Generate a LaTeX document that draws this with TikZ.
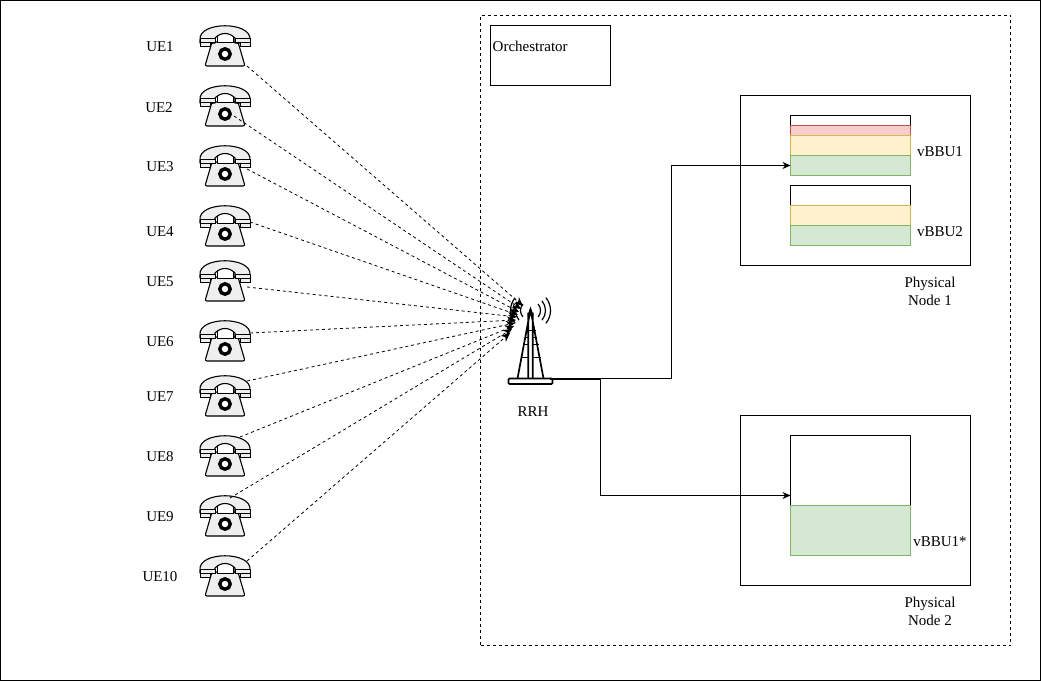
\documentclass[tikz,border=0pt]{standalone}
\usepackage{fontspec}
\setmainfont{Liberation Serif}
\usetikzlibrary{arrows.meta}
\definecolor{gf}{HTML}{D5E8D4}\definecolor{gd}{HTML}{82B366}
\definecolor{yf}{HTML}{FFF2CC}\definecolor{yd}{HTML}{D6B656}
\definecolor{rf}{HTML}{F8CECC}\definecolor{rd}{HTML}{B85450}
\definecolor{ph}{HTML}{EFEFEF}
\tikzset{
 lbl/.style={font=\fontsize{15}{18}\selectfont,inner sep=0pt,align=center},
 boxx/.style={draw=black,line width=.8pt,anchor=north west,inner sep=0pt,outer sep=0pt},
 link/.style={draw=black,line width=.8pt,-{Stealth[length=8pt,width=7pt]}},
 radio/.style={draw=black,line width=.8pt,dash pattern=on 3pt off 3pt,-{Stealth[length=9pt,width=8pt]}},
 pics/phone/.style={code={
  \fill[ph,draw=black,line width=1.1pt,line join=round,rounded corners=2pt] (-13,-4)--(13,-4)--(20,20)--(-20,20)--cycle;
  \draw[line width=1pt,fill=white] (-8,-12) -- (-8,-3) -- (8,-3) -- (8,-12);
  \fill[ph,draw=black,line width=1.1pt,line join=round] (-25,-6) .. controls (-27,-25) and (27,-25) .. (25,-6) -- (25,-3) -- (10,-3) -- (10,-8) .. controls (4,-14) and (-4,-14) .. (-10,-8) -- (-10,-3) -- (-25,-3) -- cycle;
  \draw[line width=1pt,fill=ph] (-25,-7) rectangle (-10,-3) (10,-7) rectangle (25,-3);
  \draw[line width=1pt,fill=ph] (-25,-3) rectangle (-15,1) (15,-3) rectangle (25,1);
  \draw[line width=3.4pt,fill=white] (0,8) circle (5.2);
 }},
 pics/mast/.style={code={
  \draw[line width=1.7pt,line join=round] (-13,0) -- (0,-69) -- (13,0) (-2.2,0) -- (-2.2,-66) (2.2,0) -- (2.2,-66);
  \fill (0,-72) -- (-3,-63) -- (3,-63) -- cycle;
  \draw[line width=1.3pt] (-6,-41)--(-2,-41) (2,-41)--(6,-41) (-8,-34)--(-2,-34) (2,-34)--(8,-34) (-10,-21)--(-2,-21) (2,-21)--(10,-21) (-5,-48)--(5,-48);
  \draw[line width=1.6pt,fill=white,rounded corners=1pt] (-22,0) rectangle (22,5.5);
  \foreach \r in {10,15,20}{\draw[line width=1.2pt] (0,-68)++(-40:\r) arc (-40:40:\r);
   \draw[line width=1.2pt] (0,-68)++(140:\r) arc (140:220:\r);}
 }}
}
\begin{document}
\begin{tikzpicture}[x=1pt,y=-1pt]
\useasboundingbox (0,0) rectangle (1041,682);
\node[boxx,minimum width=1040pt,minimum height=680pt] (frame) at (.5,.5) {};
\node[boxx,dash pattern=on 3pt off 3pt,minimum width=530pt,minimum height=630pt] (orchzone) at (480.5,15.5) {};
\node[boxx,minimum width=120pt,minimum height=60pt] (orch) at (490.5,25.5) {};
\node[lbl,anchor=west] (orchl) at (492.5,46) {Orchestrator};
\node[boxx,minimum width=230pt,minimum height=170pt] (pn1) at (740.5,95.5) {};
\node[boxx,minimum width=230pt,minimum height=170pt] (pn2) at (740.5,415.5) {};
\node[lbl] (pn1l) at (930,291) {Physical\\Node 1};
\node[lbl] (pn2l) at (930,611) {Physical\\Node 2};
% vBBU1
\node[boxx,minimum width=120pt,minimum height=10pt] (a0) at (790.5,115.5) {};
\node[boxx,draw=rd,fill=rf,minimum width=120pt,minimum height=10pt] (a1) at (790.5,125.5) {};
\node[boxx,draw=yd,fill=yf,minimum width=120pt,minimum height=20pt] (a2) at (790.5,135.5) {};
\node[boxx,draw=gd,fill=gf,minimum width=120pt,minimum height=20pt] (a3) at (790.5,155.5) {};
\node[lbl] (al) at (940,151.5) {vBBU1};
% vBBU2
\node[boxx,minimum width=120pt,minimum height=20pt] (b0) at (790.5,185.5) {};
\node[boxx,draw=yd,fill=yf,minimum width=120pt,minimum height=20pt] (b1) at (790.5,205.5) {};
\node[boxx,draw=gd,fill=gf,minimum width=120pt,minimum height=20pt] (b2) at (790.5,225.5) {};
\node[lbl] (bl) at (940,231.5) {vBBU2};
% vBBU1*
\node[boxx,minimum width=120pt,minimum height=70pt] (c0) at (790.5,435.5) {};
\node[boxx,draw=gd,fill=gf,minimum width=120pt,minimum height=50pt] (c1) at (790.5,505.5) {};
\node[lbl] (cl) at (940,541.5) {vBBU1*};
% tower
\pic at (530.5,378.5) {mast};
\coordinate (rrh) at (550,378.5);
\coordinate (rrh2) at (550,379.5);
\node[lbl] (rrhl) at (533,411.5) {RRH};
\draw[link] (rrh) -| (671.5,165.5) -- (a3.west);
\draw[link] (rrh2) -- (600.5,379.5) |- (c0.west |- 0,495.5);
% phones
\foreach \n/\lx/\ly/\y in {1/160/46.5/46,2/159/107.5/106,3/160/166.5/166,4/160/231.5/226,5/160/281.5/281,6/160/341.5/341,7/160/396.5/396,8/160/456.5/456,9/160/516.5/516,10/160/576.5/576}{
 \pic at (225,\y) {phone};
 \node[lbl] (ue\n) at (\lx,\ly) {UE\n};
}
\foreach \n/\sx/\sy/\ex/\ey in {1/247/66/523/306,2/234/116/521/309,3/247/169/519/312,4/250/222/518/315,5/247/287/517/317,6/250/333/516/320,7/247/381/515/323,8/240/437/514/326,9/230/498/512/329,10/247/561/510/333}{
 \coordinate (s\n) at (\sx,\sy);
 \coordinate (e\n) at (\ex,\ey);
 \draw[radio] (s\n) -- (e\n);
}
\end{tikzpicture}
\end{document}
